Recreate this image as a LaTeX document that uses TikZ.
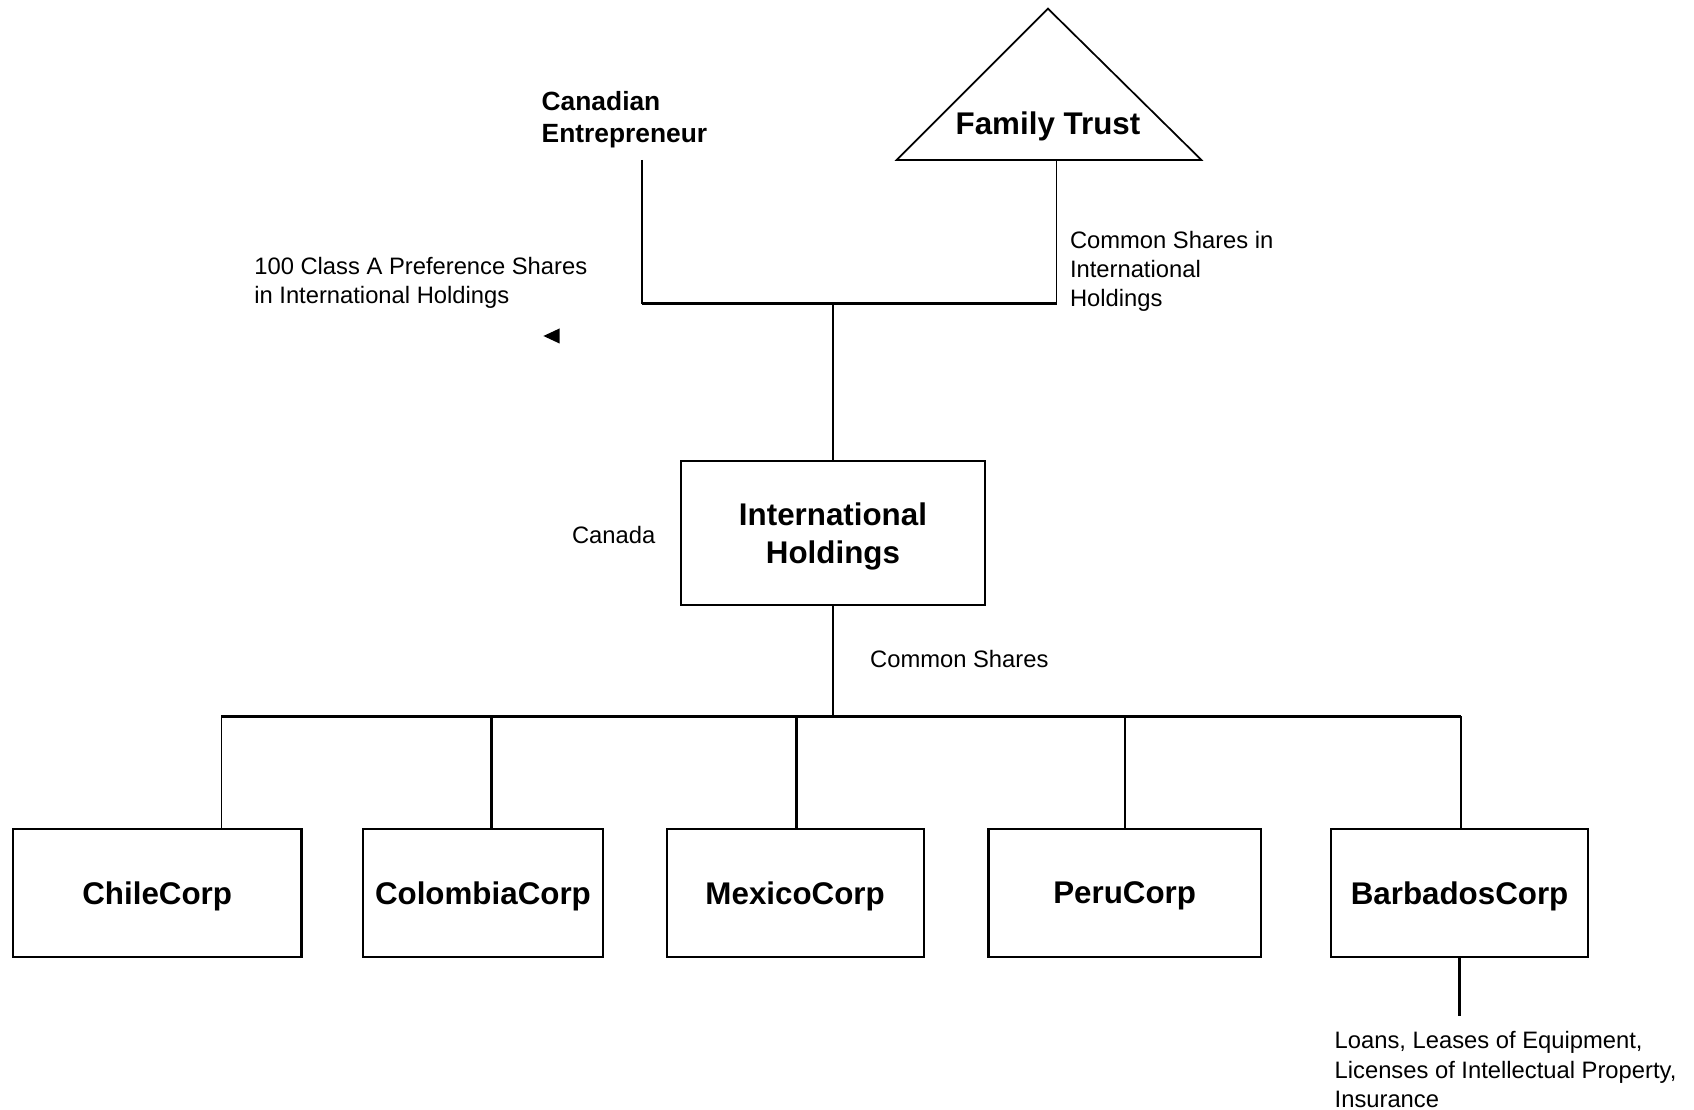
\documentclass[tikz,border=0pt]{standalone}
\usepackage{fontspec}
\setmainfont{Liberation Sans}
\usetikzlibrary{shapes.geometric}
\begin{document}
\begin{tikzpicture}[x=0.5pt,y=-0.5pt,
  bigbold/.style={font=\fontsize{14.5}{17.5}\selectfont\bfseries},
  corpbox/.style={draw,line width=1pt,inner sep=0pt,bigbold,align=center,minimum height=59.5pt,text depth=0pt},
  lbl/.style={font=\fontsize{11}{13.5}\selectfont,align=left,inner sep=0pt},
  thinline/.style={line width=0.8pt},
  busline/.style={line width=1.2pt}]
\useasboundingbox (0,0) rectangle (1568,1027);
% Family trust triangle
\draw[line width=0.8pt] (970,8) -- (1112,148) -- (830,148) -- cycle;
\node[bigbold] (ft) at (970,117) {Family Trust};
\coordinate (ftbase) at (978,148);
% Canadian entrepreneur
\node[font=\fontsize{12.2}{15}\selectfont\bfseries,align=left,anchor=west,inner sep=0pt] (ce) at (501,111) {Canadian\\Entrepreneur};
\coordinate (cedrop) at (594,148);
\coordinate (jl) at (594,281);
\coordinate (jr) at (978,281);
\coordinate (jm) at (771,281);
\draw[thinline] (cedrop) -- (jl);
\draw[line width=1.1pt] (jl) -- (jr);
\draw[thinline] (jr) -- (ftbase);
% labels
\node[lbl,anchor=west] (pref) at (235,262) {100 Class A Preference Shares\\in International Holdings};
\node[lbl,anchor=west] (cs1) at (990,251) {Common Shares in\\International\\Holdings};
% stray arrowhead
\fill (503,311) -- (518,304) -- (518,318) -- cycle;
% International holdings
\node[draw,line width=1pt,inner sep=0pt,bigbold,align=center,minimum width=141pt,minimum height=66.5pt] (ih) at (771,493.5) {};
\node[bigbold,align=center] (ihtext) at (771,496.5) {International\\Holdings};
\draw[thinline] (jm) -- (ih.north);
\node[lbl] (canada) at (568,495) {Canada};
\node[lbl,anchor=west] (cs2) at (805,610) {Common Shares};
\coordinate (bus) at (771,663);
\draw[thinline] (ih.south) -- (bus);
\coordinate (busl) at (205,663);
\coordinate (busr) at (1352,663);
\draw[busline] (busl) -- (busr);
% companies
\node[corpbox,minimum width=133.5pt] (chile) at (145.5,826.5) {ChileCorp};
\node[corpbox,minimum width=111pt] (colombia) at (447,826.5) {ColombiaCorp};
\node[corpbox,minimum width=119pt] (mexico) at (736,826.5) {MexicoCorp};
\node[corpbox,minimum width=126pt] (peru) at (1041,826.5) {PeruCorp};
\node[corpbox,minimum width=119pt] (barbados) at (1351,826.5) {BarbadosCorp};
\coordinate (d1) at (205,663);
\coordinate (d2) at (455,663);
\coordinate (d3) at (737,663);
\coordinate (d4) at (1041,663);
\coordinate (d5) at (1352,663);
\draw[thinline] (d1) -- (d1 |- chile.north);
\draw[busline] (d2) -- (d2 |- colombia.north);
\draw[busline] (d3) -- (d3 |- mexico.north);
\draw[thinline] (d4) -- (d4 |- peru.north);
\draw[thinline] (d5) -- (d5 |- barbados.north);
\coordinate (bend) at (1351,940);
\draw[line width=1.3pt] (barbados.south) -- (bend);
\node[lbl,anchor=west] (loans) at (1235,990) {Loans, Leases of Equipment,\\Licenses of Intellectual Property,\\Insurance};
\end{tikzpicture}
\end{document}
